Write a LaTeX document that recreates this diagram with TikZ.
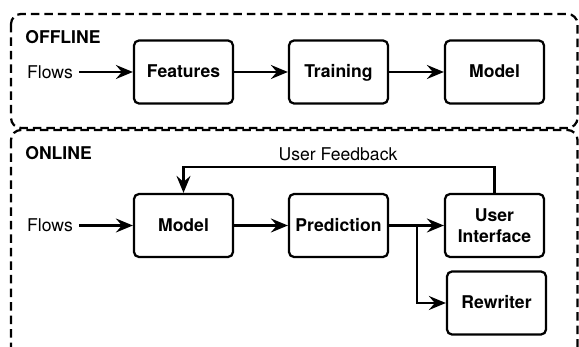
\documentclass[tikz,border=0pt]{standalone}
\usepackage{fontspec}
\setmainfont{TeX Gyre Heros}
\usetikzlibrary{arrows.meta}

\tikzset{
    box/.style = {draw, line width=0.045cm, rounded corners=0.1cm, minimum width=1.98cm, minimum height=1.26cm, align=center, font=\bfseries},
    oneline/.style = {text height=1.75ex, text depth=0.45ex},
    flow/.style = {line width=0.045cm, -{Stealth[length=0.34cm, width=0.28cm, inset=0.12cm]}},
    frame/.style = {line width=0.045cm, dash pattern=on 0.17cm off 0.1cm, rounded corners=0.2cm},
}

\begin{document}
\begin{tikzpicture}[]
            \useasboundingbox (0,0) rectangle (11.58,-6.94);
            \clip (0,0) rectangle (11.58,-6.94);

            \draw [frame] (0.22,-0.28) rectangle (11.55,-2.56);
            \draw [frame] (0.22,-2.60) rectangle (11.55,-7.40);

            \node [anchor=west, inner sep=0, font=\bfseries] (offlbl) at (0.5,-0.74) {OFFLINE};
            \node [anchor=west, inner sep=0, font=\bfseries] (onlbl) at (0.5,-3.06) {ONLINE};

            \node (flowsA) at (1.0,-1.44) {Flows};
            \node [box, oneline] (features) at (3.67,-1.44) {Features};
            \node [box, oneline] (training) at (6.77,-1.44) {Training};
            \node [box, oneline] (modelA) at (9.89,-1.44) {Model};

            \draw [flow] (flowsA) -- (features);
            \draw [flow] (features) -- (training);
            \draw [flow] (training) -- (modelA);

            \node (flowsB) at (1.0,-4.51) {Flows};
            \node [box, oneline] (modelB) at (3.67,-4.51) {Model};
            \node [box, oneline] (prediction) at (6.77,-4.51) {Prediction};
            \node [box] (ui) at (9.89,-4.51) {User\\Interface};
            \node [box, oneline] (rewriter) at (9.93,-6.06) {Rewriter};
            \node (feedback) at (6.76,-3.08) {User Feedback};

            \coordinate (split) at (8.34,-4.51);

            \draw [flow] (flowsB) -- (modelB);
            \draw [flow] (modelB) -- (prediction);
            \draw [line width=0.045cm] (prediction) -- (split);
            \draw [flow] (split) -- (ui);
            \draw [flow] (split) |- (rewriter);
            \draw [flow] (ui.north) -- ++(0,0.51) -| (modelB.north);
    \end{tikzpicture}
\end{document}
